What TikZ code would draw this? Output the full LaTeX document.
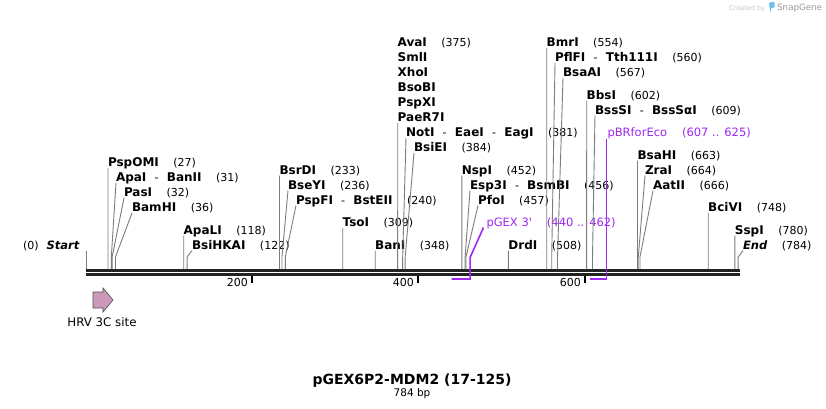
\documentclass[tikz,border=0pt]{standalone}
\usepackage{fontspec}
\setmainfont{DejaVu Sans}[Ligatures=TeXOff]
\usetikzlibrary{calc}
\definecolor{primer}{RGB}{160,40,240}
\definecolor{conncol}{RGB}{125,125,125}
\definecolor{barcol}{RGB}{34,34,34}
\definecolor{featcol}{RGB}{204,153,187}
\definecolor{sglogo}{RGB}{110,190,240}
\newcommand\nm[1]{{\fontsize{12}{14}\selectfont\bfseries #1}}
\newcommand\nmi[1]{{\fontsize{11.5}{14}\selectfont\bfseries\itshape #1}}
\newcommand\dsh{\hspace{0.75em}-\hspace{0.75em}}
\newcommand\bp[1]{\hspace{14.5pt}(#1)}
\newcommand\conn[2]{\draw[cn] ($(#1.base west)+(0,1.5)$) -- ($(#2)+(0,-12)$) -- (#2);}
\begin{document}
\begin{tikzpicture}[x=1pt,y=-1pt,
  lbl/.style={anchor=base west,inner sep=0pt,outer sep=0pt,font=\fontsize{11}{13}\selectfont},
  plbl/.style={lbl,text=primer,font=\fontsize{11.5}{13}\selectfont},
  cn/.style={draw=conncol,line width=0.9pt},
  pl/.style={draw=primer,line width=1.6pt},
  barline/.style={draw=barcol,line width=2.7pt},
  tickmark/.style={draw=black,line width=1.8pt},
  ticklbl/.style={anchor=base east,inner sep=0pt,font=\fontsize{11}{13}\selectfont}]

\fill[white] (0,0) rectangle (826,408);
\useasboundingbox (0,0) rectangle (826,408);

% cut sites on the sequence
\foreach \p in {27,31,32,36,118,122,233,236,240,309,348,375,381,384,452,456,457,508,554,560,567,602,609,663,664,666,748,780,784}{
  \coordinate (s\p) at ({85.5+0.8325*\p},269);
}
\coordinate (s0) at (86,269);
\coordinate (s0top) at (86,250.5);

% sequence bar
\coordinate (barA1) at (85.5,270.3);
\coordinate (barB1) at (740,270.3);
\coordinate (barA2) at (85.5,274.4);
\coordinate (barB2) at (740,274.4);
\draw[barline] (barA1) -- (barB1);
\draw[barline] (barA2) -- (barB2);

% ticks
\coordinate (t200) at (252,276);
\coordinate (t400) at (418,276);
\coordinate (t600) at (585,276);
\draw[tickmark] (t200) -- ++(0,6.5);
\draw[tickmark] (t400) -- ++(0,6.5);
\draw[tickmark] (t600) -- ++(0,6.5);
\node[ticklbl] (l200) at (248,286) {200};
\node[ticklbl] (l400) at (414,286) {400};
\node[ticklbl] (l600) at (581,286) {600};

% labels
\node[lbl] (Start) at (23,249) {(0)\hspace{8pt}\nmi{Start}};
\draw[cn] (s0top) -- (s0);

\node[lbl] (PspOMI) at (108,166.5) {\nm{PspOMI}\bp{27}};
\node[lbl] (ApaI) at (116,181.5) {\nm{ApaI}\dsh\nm{BanII}\bp{31}};
\node[lbl] (PasI) at (124,196.5) {\nm{PasI}\bp{32}};
\node[lbl] (BamHI) at (132,211.5) {\nm{BamHI}\bp{36}};
\node[lbl] (ApaLI) at (183.7,234) {\nm{ApaLI}\bp{118}};
\node[lbl] (BsiHKAI) at (192,249) {\nm{BsiHKAI}\bp{122}};

\node[lbl] (BsrDI) at (279.5,174) {\nm{BsrDI}\bp{233}};
\node[lbl] (BseYI) at (288,189) {\nm{BseYI}\bp{236}};
\node[lbl] (PspFI) at (296,204) {\nm{PspFI}\dsh\nm{BstEII}\bp{240}};
\node[lbl] (TsoI) at (342.7,226.5) {\nm{TsoI}\bp{309}};
\node[lbl] (BanI) at (375.2,249) {\nm{BanI}\bp{348}};

\node[lbl] (AvaI) at (397.7,46.5) {\nm{AvaI}\bp{375}};
\node[lbl] (SmlI) at (397.7,61.5) {\nm{SmlI}};
\node[lbl] (XhoI) at (397.7,76.5) {\nm{XhoI}};
\node[lbl] (BsoBI) at (397.7,91.5) {\nm{BsoBI}};
\node[lbl] (PspXI) at (397.7,106.5) {\nm{PspXI}};
\node[lbl] (PaeR7I) at (397.7,121.5) {\nm{PaeR7I}};
\node[lbl] (NotI) at (406,136.5) {\nm{NotI}\dsh\nm{EaeI}\dsh\nm{EagI}\bp{381}};
\node[lbl] (BsiEI) at (414,151.5) {\nm{BsiEI}\bp{384}};

\node[lbl] (NspI) at (461.8,174) {\nm{NspI}\bp{452}};
\node[lbl] (Esp3I) at (470,189) {\nm{Esp3I}\dsh\nm{BsmBI}\bp{456}};
\node[lbl] (PfoI) at (478,204) {\nm{PfoI}\bp{457}};
\node[plbl] (pGEX) at (486.5,226.5) {pGEX 3'\hspace{15pt}(440 .. 462)};
\node[lbl] (DrdI) at (508.4,249) {\nm{DrdI}\bp{508}};

\node[lbl] (BmrI) at (546.7,46.5) {\nm{BmrI}\bp{554}};
\node[lbl] (PflFI) at (555,61.5) {\nm{PflFI}\dsh\nm{Tth111I}\bp{560}};
\node[lbl] (BsaAI) at (563,76.5) {\nm{BsaAI}\bp{567}};
\node[lbl] (BbsI) at (586.7,99) {\nm{BbsI}\bp{602}};
\node[lbl] (BssSI) at (595,114) {\nm{BssSI}\dsh\nm{BssSαI}\bp{609}};
\node[plbl] (pBR) at (607.5,136.5) {pBRforEco\hspace{15pt}(607 .. 625)};
\node[lbl] (BsaHI) at (637.5,159) {\nm{BsaHI}\bp{663}};
\node[lbl] (ZraI) at (645,174) {\nm{ZraI}\bp{664}};
\node[lbl] (AatII) at (653,189) {\nm{AatII}\bp{666}};
\node[lbl] (BciVI) at (708.2,211.5) {\nm{BciVI}\bp{748}};
\node[lbl] (SspI) at (734.9,234) {\nm{SspI}\bp{780}};
\node[lbl] (End) at (743,249) {\nmi{End}\bp{784}};

% connectors
\conn{PspOMI}{s27}
\conn{ApaI}{s31}
\conn{PasI}{s32}
\conn{BamHI}{s36}
\conn{ApaLI}{s118}
\conn{BsiHKAI}{s122}
\conn{BsrDI}{s233}
\conn{BseYI}{s236}
\conn{PspFI}{s240}
\conn{TsoI}{s309}
\conn{BanI}{s348}
\conn{PaeR7I}{s375}
\conn{NotI}{s381}
\conn{BsiEI}{s384}
\conn{NspI}{s452}
\conn{Esp3I}{s456}
\conn{PfoI}{s457}
\conn{DrdI}{s508}
\conn{BmrI}{s554}
\conn{PflFI}{s560}
\conn{BsaAI}{s567}
\conn{BbsI}{s602}
\conn{BssSI}{s609}
\conn{BsaHI}{s663}
\conn{ZraI}{s664}
\conn{AatII}{s666}
\conn{BciVI}{s748}
\conn{SspI}{s780}
\conn{End}{s784}

% primers
\coordinate (pg1) at (470.1,257.5);
\coordinate (pg2) at (470.1,279);
\coordinate (pg3) at (451.5,279);
\draw[pl] ($(pGEX.base west)+(-3,1)$) -- (pg1) -- (pg2) -- (pg3);
\coordinate (pb1) at (606.3,279);
\coordinate (pb2) at (590,279);
\draw[pl] ($(pBR.base west)+(-1.2,2)$) -- (pb1) -- (pb2);

% feature
\draw[draw=black!70,fill=featcol,line width=0.6pt] (93,292) -- (103,292) -- (103,288) -- (113,300) -- (103,312) -- (103,308) -- (93,308) -- cycle;
\node[anchor=base,inner sep=0pt,font=\fontsize{11.8}{14}\selectfont] (hrv) at (102,326) {HRV 3C site};

% title
\node[anchor=base,inner sep=0pt,font=\fontsize{14}{16}\selectfont\bfseries] (title) at (412,384) {pGEX6P2-MDM2 (17-125)};
\node[anchor=base,inner sep=0pt,font=\fontsize{10.5}{12}\selectfont] (len) at (412,396) {784 bp};

% watermark
\node[anchor=base west,inner sep=0pt,text=black!22,font=\fontsize{6.5}{8}\selectfont] (wm1) at (729,10) {Created by};
\fill[sglogo] (769,3) .. controls (772,1.5) .. (774.5,2.5) -- (774.5,7) .. controls (772.5,7) .. (771.2,8.5) -- (770.3,12.5) -- cycle;
\node[anchor=base west,inner sep=0pt,text=black!40,font=\fontsize{8.7}{10}\selectfont] (wm2) at (777,10.5) {SnapGene};
\end{tikzpicture}
\end{document}
